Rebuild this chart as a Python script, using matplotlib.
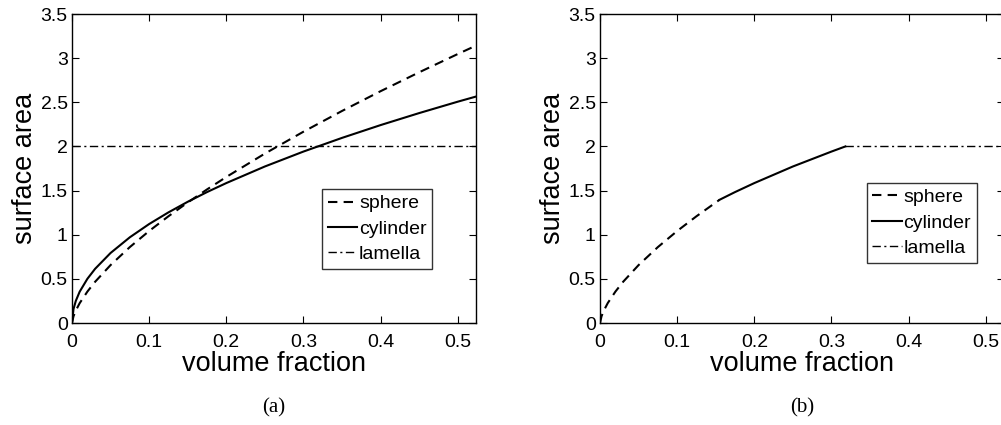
import matplotlib
matplotlib.use("Agg")
import matplotlib.pyplot as plt

# volume fraction grid
phi = [0, 0.002, 0.005, 0.01, 0.02, 0.03, 0.05, 0.075, 0.1, 0.125, 0.15,
       0.175, 0.2, 0.25, 0.3, 0.35, 0.4, 0.45, 0.5, 0.5236]
sphere = [0, 0.077, 0.141, 0.225, 0.356, 0.467, 0.656, 0.860, 1.042, 1.209, 1.365,
          1.513, 1.654, 1.919, 2.167, 2.402, 2.626, 2.840, 3.047, 3.142]
cylinder = [0, 0.159, 0.251, 0.355, 0.501, 0.614, 0.793, 0.971, 1.121, 1.253, 1.373,
            1.483, 1.585, 1.773, 1.942, 2.097, 2.242, 2.378, 2.507, 2.565]
lamella = [2.0] * len(phi)

# panel (b): lowest surface area phase only
b_sphere_x = [0, 0.002, 0.005, 0.01, 0.02, 0.03, 0.05, 0.075, 0.1, 0.125, 0.155]
b_sphere_y = [0, 0.077, 0.141, 0.225, 0.356, 0.467, 0.656, 0.860, 1.042, 1.209, 1.396]
b_cyl_x = [0.155, 0.175, 0.2, 0.25, 0.3, 0.318]
b_cyl_y = [1.396, 1.483, 1.585, 1.773, 1.942, 2.0]
b_lam_x = [0.318, 0.5236]
b_lam_y = [2.0, 2.0]

xticks = [0, 0.1, 0.2, 0.3, 0.4, 0.5]
yticks = [0, 0.5, 1, 1.5, 2, 2.5, 3, 3.5]
ytick_labels = ["0", "0.5", "1", "1.5", "2", "2.5", "3", "3.5"]
xtick_labels = ["0", "0.1", "0.2", "0.3", "0.4", "0.5"]

plt.rcParams["font.family"] = ["Liberation Sans", "DejaVu Sans"]

fig = plt.figure(figsize=(10.01, 4.25), dpi=100)
ax_a = fig.add_axes([0.0719, 0.240, 0.4036, 0.727])
ax_b = fig.add_axes([0.5994, 0.240, 0.4036, 0.727])

lw = 1.5
dash = (0, (4.5, 3))
dashdot = (0, (6, 2.5, 1.5, 2.5))

ax_a.plot(phi, sphere, color="black", lw=lw, linestyle=dash, label="sphere")
ax_a.plot(phi, cylinder, color="black", lw=lw, linestyle="-", label="cylinder")
ax_a.plot(phi, lamella, color="black", lw=1.0, linestyle=dashdot, label="lamella")

ax_b.plot(b_sphere_x, b_sphere_y, color="black", lw=lw, linestyle=dash, label="sphere")
ax_b.plot(b_cyl_x, b_cyl_y, color="black", lw=lw, linestyle="-", label="cylinder")
ax_b.plot(b_lam_x, b_lam_y, color="black", lw=1.0, linestyle=dashdot, label="lamella")

legend_pos = {ax_a: (0.619, 0.175), ax_b: (0.660, 0.195)}
for ax, caption in [(ax_a, "(a)"), (ax_b, "(b)")]:
    ax.set_xlim(0, 0.5236)
    ax.set_ylim(0, 3.5)
    ax.set_xticks(xticks)
    ax.set_xticklabels(xtick_labels)
    ax.set_yticks(yticks)
    ax.set_yticklabels(ytick_labels)
    ax.tick_params(direction="in", length=5, width=0.8, top=True, right=True,
                   labelsize=14)
    ax.tick_params(axis="x", pad=8)
    ax.tick_params(axis="y", pad=3)
    for s in ax.spines.values():
        s.set_linewidth(1.0)
    ax.set_xlabel("volume fraction", fontsize=19.5, labelpad=0)
    ax.set_ylabel("surface area", fontsize=19.5, labelpad=2)
    leg = ax.legend(loc="lower left", bbox_to_anchor=legend_pos[ax], fontsize=14,
                    frameon=True, fancybox=False, edgecolor="black",
                    handlelength=1.5, handletextpad=0.1, borderpad=0.3,
                    labelspacing=0.4, borderaxespad=0)
    leg.get_frame().set_linewidth(1.0)
    ax.text(0.5, -0.275, caption, transform=ax.transAxes, ha="center", va="center",
            fontsize=15, family="Liberation Serif")

fig.savefig("out.png", dpi=100)
